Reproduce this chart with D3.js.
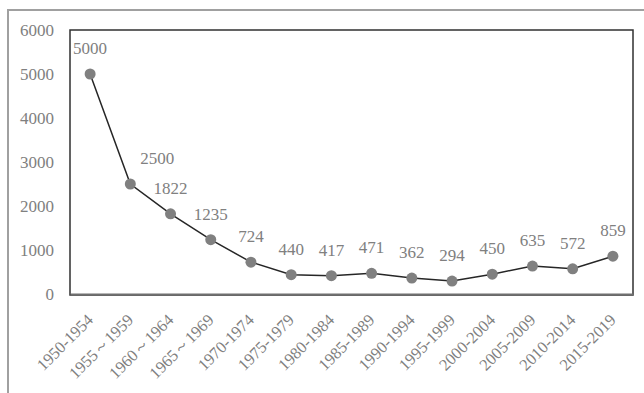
<!DOCTYPE html>
<html><head><meta charset="utf-8">
<script src="https://cdn.jsdelivr.net/npm/d3@7"></script>
<style>html,body{margin:0;padding:0;background:#fff;}svg{display:block;}</style>
</head><body>
<svg id="chart" width="644" height="393"></svg>
<script>
const categories = ["1950-1954","1955～1959","1960～1964","1965～1969","1970-1974","1975-1979","1980-1984","1985-1989","1990-1994","1995-1999","2000-2004","2005-2009","2010-2014","2015-2019"];
const values = [5000,2500,1822,1235,724,440,417,471,362,294,450,635,572,859];
const yTicks = [0,1000,2000,3000,4000,5000,6000];

const svg = d3.select("#chart");
const font = "'Liberation Serif','DejaVu Serif',serif";
const L = 70, R = 633, T = 30, B = 294;

const x = d3.scaleBand().domain(categories).range([L, R]).padding(0);
const y = d3.scaleLinear().domain([0, 6000]).range([B, T]);

// outer frame
svg.append("path").attr("d", "M8,393 L8,10 L644,10")
  .attr("fill", "none").attr("stroke", "#a0a0a0").attr("stroke-width", 2);

// plot frame
svg.append("rect").attr("x", L).attr("y", T).attr("width", R - L).attr("height", B - T + 1)
  .attr("fill", "none").attr("stroke", "#303030").attr("stroke-width", 1.5);

// y axis labels
const yAxis = d3.axisLeft(y).tickValues(yTicks).tickSize(0).tickPadding(16).tickFormat(d3.format("d"));
const gy = svg.append("g").attr("transform", `translate(${L},0)`).call(yAxis);
gy.select(".domain").remove();
gy.selectAll("text").attr("font-family", font).attr("font-size", 17).attr("fill", "#808080");

// x axis
const xAxis = d3.axisBottom(x).tickSize(0).tickFormat(d => d);
const gx = svg.append("g").attr("transform", `translate(0,${B})`).call(xAxis);
gx.select(".domain").attr("stroke", "#707070").attr("stroke-width", 2);
gx.selectAll("text")
  .attr("font-family", font).attr("font-size", 16.5).attr("fill", "#808080")
  .attr("text-anchor", "end").attr("y", 0).attr("dy", 0)
  .attr("transform", "translate(4,27) rotate(-45)");

// line
const line = d3.line().x((d, i) => x(categories[i]) + x.bandwidth() / 2).y(d => y(d));
svg.append("path").datum(values).attr("d", line)
  .attr("fill", "none").attr("stroke", "#262626").attr("stroke-width", 1.5);

// markers
svg.selectAll("circle.pt").data(values).enter().append("circle")
  .attr("class", "pt")
  .attr("cx", (d, i) => x(categories[i]) + x.bandwidth() / 2)
  .attr("cy", d => y(d)).attr("r", 5.5).attr("fill", "#808080");

// data labels
const labelDx = values.map((d, i) => i === 1 ? 27 : 0);
svg.selectAll("text.lbl").data(values).enter().append("text")
  .attr("class", "lbl")
  .attr("x", (d, i) => x(categories[i]) + x.bandwidth() / 2 + labelDx[i])
  .attr("y", d => y(d) - 20)
  .attr("text-anchor", "middle")
  .attr("font-family", font).attr("font-size", 17).attr("fill", "#808080")
  .text(d => d);
</script>
</body></html>
